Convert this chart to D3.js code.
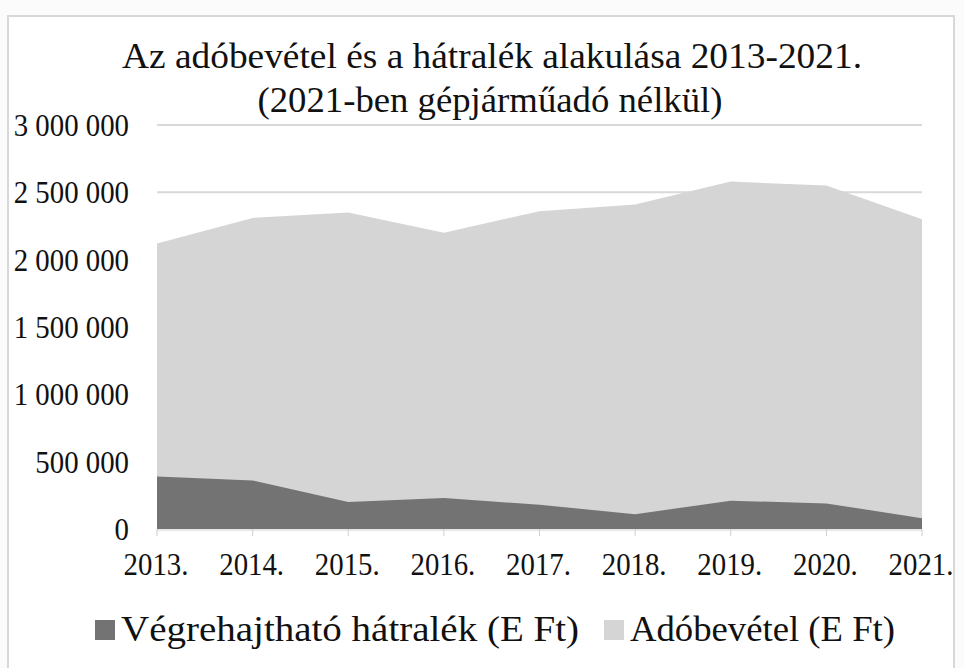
<!DOCTYPE html>
<html>
<head>
<meta charset="utf-8">
<script src="https://cdn.jsdelivr.net/npm/d3@7"></script>
<style>
  body { margin: 0; background: #fbfbfb; }
  text { font-family: "Liberation Serif", "Times New Roman", serif; fill: #111; }
</style>
</head>
<body>
<div id="chart"></div>
<script>
const years = ["2013.", "2014.", "2015.", "2016.", "2017.", "2018.", "2019.", "2020.", "2021."];
const hatralek = [390000, 360000, 200000, 230000, 180000, 110000, 210000, 190000, 80000];
const adobevetel = [2120000, 2310000, 2350000, 2200000, 2360000, 2410000, 2580000, 2550000, 2300000];
const yTicks = [0, 500000, 1000000, 1500000, 2000000, 2500000, 3000000];
const seriesNames = ["Végrehajtható hátralék (E Ft)", "Adóbevétel (E Ft)"];

const W = 964, H = 668;
const plot = { left: 157, right: 922, top: 125, bottom: 529 };

const svg = d3.select("#chart").append("svg")
    .attr("width", W)
    .attr("height", H);

// scanned frame
svg.append("rect")
    .attr("x", 8).attr("y", 16)
    .attr("width", 946).attr("height", 660)
    .attr("fill", "#ffffff")
    .attr("stroke", "#d8d8d8")
    .attr("stroke-width", 2);

const x = d3.scalePoint().domain(years).range([plot.left, plot.right]);
const y = d3.scaleLinear().domain([0, 3000000]).range([plot.bottom, plot.top]);

const fmt = v => d3.format(",")(v).replace(/,/g, " ");

// gridlines
svg.append("g").selectAll("line")
    .data(yTicks.slice(1))
    .enter().append("line")
    .attr("x1", plot.left).attr("x2", plot.right)
    .attr("y1", d => y(d)).attr("y2", d => y(d))
    .attr("stroke", "#d9d9d9")
    .attr("stroke-width", 2);

const area = vals => d3.area()
    .x((d, i) => x(years[i]))
    .y0(y(0))
    .y1(d => y(d))(vals);

svg.append("path")
    .attr("d", area(adobevetel))
    .attr("fill", "#d5d5d5");

svg.append("path")
    .attr("d", area(hatralek))
    .attr("fill", "#737373");

// x axis line and ticks
svg.append("line")
    .attr("x1", plot.left).attr("x2", plot.right)
    .attr("y1", plot.bottom + 1).attr("y2", plot.bottom + 1)
    .attr("stroke", "#cfcfcf");
svg.append("g").selectAll("line")
    .data(years)
    .enter().append("line")
    .attr("x1", d => x(d)).attr("x2", d => x(d))
    .attr("y1", plot.bottom).attr("y2", plot.bottom + 7)
    .attr("stroke", "#cfcfcf");

// y labels (condensed serif like the scan)
svg.append("g").selectAll("text")
    .data(yTicks)
    .enter().append("text")
    .attr("transform", d => `translate(129,${y(d) + 11}) scale(0.93,1)`)
    .attr("text-anchor", "end")
    .style("font-size", "31px")
    .text(d => fmt(d));

// x labels
svg.append("g").selectAll("text")
    .data(years)
    .enter().append("text")
    .attr("transform", d => `translate(${x(d) - 1},575) scale(0.9,1)`)
    .attr("text-anchor", "middle")
    .style("font-size", "32px")
    .text(d => d);

// title
svg.append("text")
    .attr("x", 492).attr("y", 68)
    .attr("text-anchor", "middle")
    .attr("textLength", 740)
    .attr("lengthAdjust", "spacingAndGlyphs")
    .style("font-size", "36px")
    .text("Az adóbevétel és a hátralék alakulása 2013-2021.");
svg.append("text")
    .attr("x", 490).attr("y", 112)
    .attr("text-anchor", "middle")
    .attr("textLength", 465)
    .attr("lengthAdjust", "spacingAndGlyphs")
    .style("font-size", "36px")
    .text("(2021-ben gépjárműadó nélkül)");

// legend
const legend = [
    { name: seriesNames[0], color: "#737373", sx: 95, tx: 121, len: 458 },
    { name: seriesNames[1], color: "#d5d5d5", sx: 604, tx: 630, len: 265 }
];
svg.append("g").selectAll("rect")
    .data(legend)
    .enter().append("rect")
    .attr("x", d => d.sx).attr("y", 620)
    .attr("width", 20).attr("height", 20)
    .attr("fill", d => d.color);
svg.append("g").selectAll("text")
    .data(legend)
    .enter().append("text")
    .attr("x", d => d.tx).attr("y", 641)
    .attr("textLength", d => d.len)
    .attr("lengthAdjust", "spacingAndGlyphs")
    .style("font-size", "35px")
    .text(d => d.name);
</script>
</body>
</html>
